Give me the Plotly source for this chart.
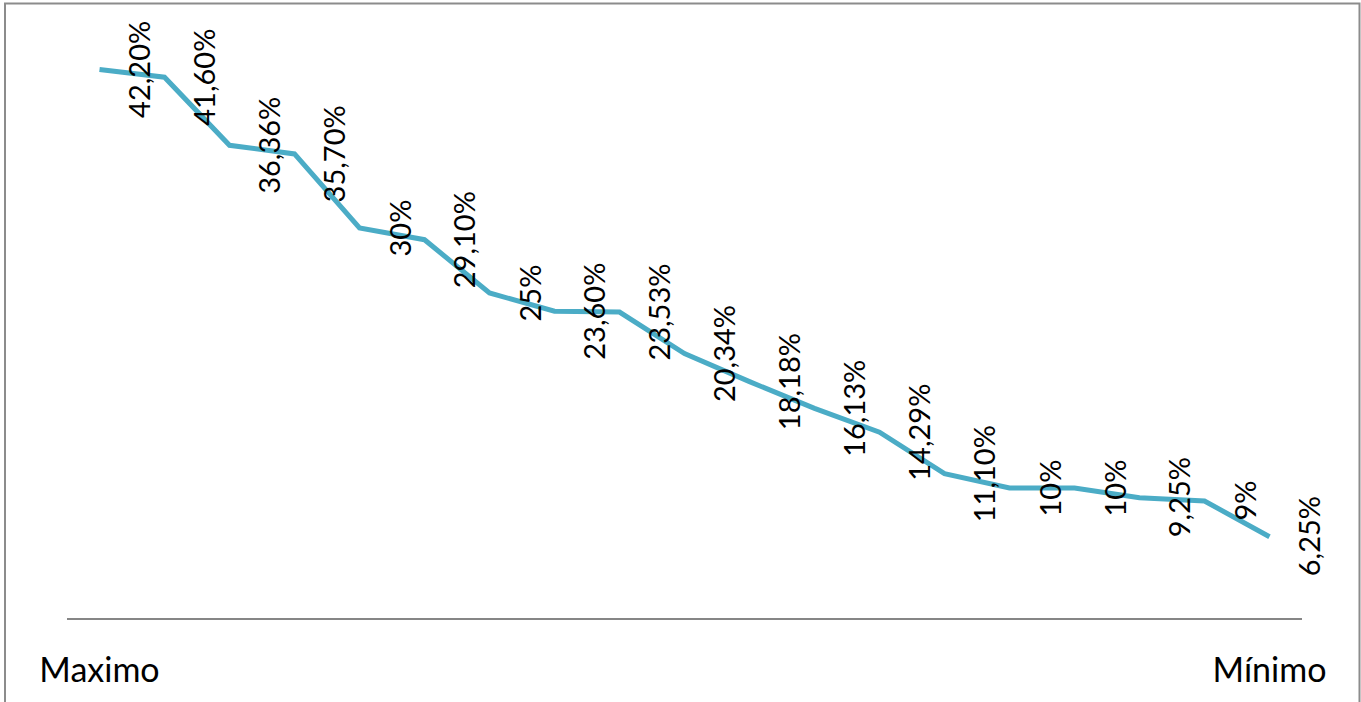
import plotly.graph_objects as go

# Rates ordered from the highest to the lowest
positions = list(range(1, 20))
rates = [42.20, 41.60, 36.36, 35.70, 30, 29.10, 25, 23.60, 23.53, 20.34,
         18.18, 16.13, 14.29, 11.10, 10, 10, 9.25, 9, 6.25]
rate_labels = ["42,20%", "41,60%", "36,36%", "35,70%", "30%", "29,10%", "25%",
               "23,60%", "23,53%", "20,34%", "18,18%", "16,13%", "14,29%",
               "11,10%", "10%", "10%", "9,25%", "9%", "6,25%"]
end_ticks = [1, 19]
end_labels = ["Maximo", "Mínimo"]

FONT = "Lato"
W, H = 1361, 702
ML, MR, MT, MB = 67, 59, 33, 84
PW, PH = W - ML - MR, H - MT - MB

fig = go.Figure()
fig.add_trace(go.Scatter(
    x=positions, y=rates, mode="lines",
    line=dict(color="#4BACC6", width=5),
    hoverinfo="skip", showlegend=False,
))

# Vertical value labels to the right of each point
for xv, yv, lab in zip(positions, rates, rate_labels):
    fig.add_annotation(
        x=xv, y=yv, text=lab, textangle=-90, showarrow=False,
        xanchor="center", yanchor="middle", xshift=39,
        font=dict(family=FONT, size=29, color="#000000"),
    )

# Outer chart border
fig.add_shape(
    type="rect", xref="paper", yref="paper",
    x0=(5 - ML) / PW, x1=(1359.5 - ML) / PW,
    y0=(H - MB - 720) / PH, y1=(H - MB - 3.5) / PH,
    line=dict(color="#8C8C8C", width=2), fillcolor="rgba(0,0,0,0)", layer="below",
)

fig.update_layout(
    width=W, height=H,
    margin=dict(l=ML, r=MR, t=MT, b=MB, pad=0),
    paper_bgcolor="white", plot_bgcolor="white",
    xaxis=dict(
        range=[0.5, 19.5], tickvals=end_ticks, ticktext=end_labels,
        showgrid=False, zeroline=False, showline=True,
        linecolor="#868686", linewidth=1.5, ticks="",
        tickfont=dict(family=FONT, size=34, color="#000000"),
        ticklabelstandoff=21,
    ),
    yaxis=dict(range=[0, 45], visible=False),
)

fig.write_html("out.html")
